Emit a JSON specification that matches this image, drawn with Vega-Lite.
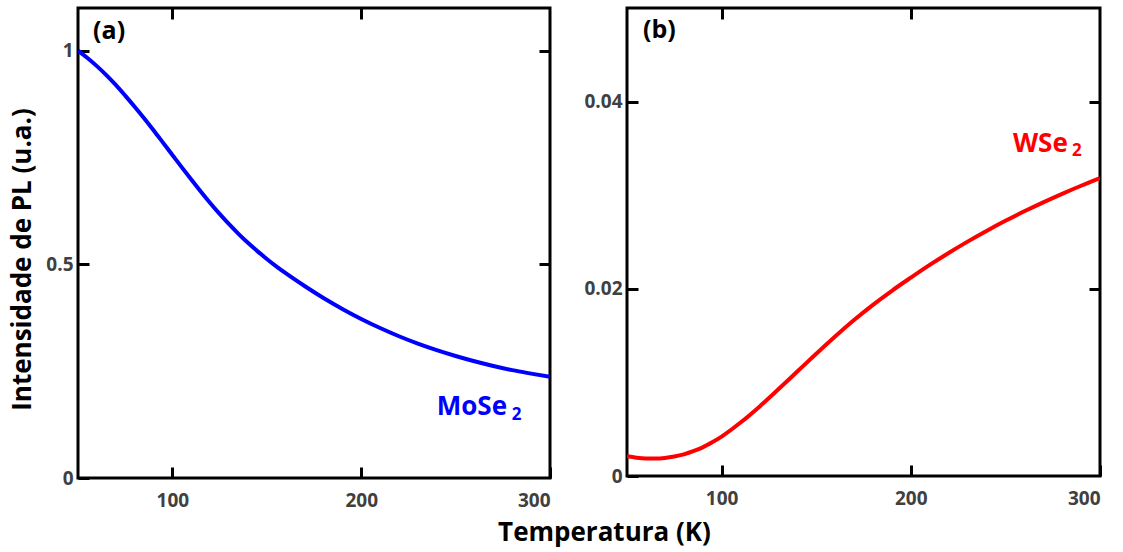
{
  "$schema": "https://vega.github.io/schema/vega-lite/v6.json",
  "background": "white",
  "padding": {"left": 7, "top": 5, "right": 10, "bottom": 5},
  "datasets": {
    "mose": [
      {"T": 50, "I": 1.000}, {"T": 55, "I": 0.983}, {"T": 60, "I": 0.964}, {"T": 65, "I": 0.943},
      {"T": 70, "I": 0.920}, {"T": 75, "I": 0.895}, {"T": 80, "I": 0.869}, {"T": 85, "I": 0.842},
      {"T": 90, "I": 0.814}, {"T": 95, "I": 0.785}, {"T": 100, "I": 0.756}, {"T": 105, "I": 0.727},
      {"T": 110, "I": 0.6985}, {"T": 115, "I": 0.6705}, {"T": 120, "I": 0.6435}, {"T": 125, "I": 0.618},
      {"T": 130, "I": 0.594}, {"T": 135, "I": 0.5715}, {"T": 140, "I": 0.5505}, {"T": 145, "I": 0.531},
      {"T": 150, "I": 0.5127}, {"T": 155, "I": 0.4955}, {"T": 160, "I": 0.4793}, {"T": 170, "I": 0.4493},
      {"T": 180, "I": 0.4213}, {"T": 190, "I": 0.3958}, {"T": 200, "I": 0.3723}, {"T": 210, "I": 0.351},
      {"T": 220, "I": 0.3318}, {"T": 230, "I": 0.3145}, {"T": 240, "I": 0.2992}, {"T": 250, "I": 0.2855},
      {"T": 260, "I": 0.2732}, {"T": 270, "I": 0.2622}, {"T": 280, "I": 0.2524}, {"T": 290, "I": 0.2443},
      {"T": 300, "I": 0.2368}
    ],
    "wse": [
      {"T": 50, "I": 0.00210}, {"T": 55, "I": 0.00196}, {"T": 60, "I": 0.00188}, {"T": 65, "I": 0.00187},
      {"T": 70, "I": 0.00193}, {"T": 75, "I": 0.00208}, {"T": 80, "I": 0.00231}, {"T": 85, "I": 0.00265},
      {"T": 90, "I": 0.00306}, {"T": 95, "I": 0.00360}, {"T": 100, "I": 0.00421}, {"T": 110, "I": 0.00571},
      {"T": 120, "I": 0.00741}, {"T": 130, "I": 0.00926}, {"T": 140, "I": 0.01116}, {"T": 150, "I": 0.01306},
      {"T": 160, "I": 0.01491}, {"T": 170, "I": 0.01666}, {"T": 180, "I": 0.01829}, {"T": 190, "I": 0.01979},
      {"T": 200, "I": 0.02119}, {"T": 210, "I": 0.02255}, {"T": 220, "I": 0.02383}, {"T": 230, "I": 0.02504},
      {"T": 240, "I": 0.02618}, {"T": 250, "I": 0.02726}, {"T": 260, "I": 0.02828}, {"T": 270, "I": 0.02924},
      {"T": 280, "I": 0.03015}, {"T": 290, "I": 0.03101}, {"T": 300, "I": 0.03182}
    ],
    "labA": [{"T": 58, "I": 1.047, "txt": "(a)"}],
    "labB": [{"T": 58.5, "I": 0.0476, "txt": "(b)"}],
    "moseName": [{"T": 240, "I": 0.1475, "txt": "MoSe"}],
    "moseSub": [{"T": 279.7, "I": 0.136, "txt": "2"}],
    "wseName": [{"T": 254, "I": 0.03466, "txt": "WSe"}],
    "wseSub": [{"T": 285.2, "I": 0.03423, "txt": "2"}]
  },
  "spacing": 77,
  "bounds": "flush",
  "hconcat": [
    {
      "width": 472,
      "height": 470,
      "layer": [
        {
          "data": {"name": "mose"},
          "mark": {"type": "line", "color": "#0000ff", "strokeWidth": 4, "interpolate": "monotone", "clip": true},
          "encoding": {
            "x": {"field": "T", "type": "quantitative", "scale": {"domain": [50, 300], "nice": false},
                  "axis": {"orient": "bottom", "values": [100, 200, 300], "title": "Temperatura (K)",
                           "titleX": 526, "titleY": 62, "titleAlign": "center", "titleBaseline": "alphabetic", "titleFontSize": 26}},
            "y": {"field": "I", "type": "quantitative", "scale": {"domain": [0, 1.1], "nice": false},
                  "axis": {"orient": "left", "values": [0, 0.5, 1], "format": "~g", "title": "Intensidade de PL (u.a.)",
                           "titleX": -56, "titleY": 251, "titleAlign": "center", "titleBaseline": "middle", "titleFontSize": 26}}
          }
        },
        {
          "data": {"name": "labA"},
          "mark": {"type": "text", "font": "Open Sans", "fontWeight": "bold", "fontSize": 25, "color": "black", "align": "left", "baseline": "middle"},
          "encoding": {
            "x": {"field": "T", "type": "quantitative", "axis": {"orient": "top", "values": [100, 200], "labels": false, "title": null}},
            "y": {"field": "I", "type": "quantitative", "axis": {"orient": "right", "values": [0.5, 1], "labels": false, "title": null}},
            "text": {"field": "txt"}
          }
        },
        {
          "data": {"name": "moseName"},
          "mark": {"type": "text", "font": "Open Sans", "fontWeight": "bold", "fontSize": 26, "color": "#0000ff", "align": "left", "baseline": "alphabetic"},
          "encoding": {
            "x": {"field": "T", "type": "quantitative", "axis": null},
            "y": {"field": "I", "type": "quantitative", "axis": null},
            "text": {"field": "txt"}
          }
        },
        {
          "data": {"name": "moseSub"},
          "mark": {"type": "text", "font": "Open Sans", "fontWeight": "bold", "fontSize": 17, "color": "#0000ff", "align": "left", "baseline": "alphabetic"},
          "encoding": {
            "x": {"field": "T", "type": "quantitative", "axis": null},
            "y": {"field": "I", "type": "quantitative", "axis": null},
            "text": {"field": "txt"}
          }
        }
      ]
    },
    {
      "width": 473,
      "height": 468,
      "layer": [
        {
          "data": {"name": "wse"},
          "mark": {"type": "line", "color": "#ff0000", "strokeWidth": 4, "interpolate": "monotone", "clip": true},
          "encoding": {
            "x": {"field": "T", "type": "quantitative", "scale": {"domain": [50, 300], "nice": false},
                  "axis": {"orient": "bottom", "values": [100, 200, 300], "title": null}},
            "y": {"field": "I", "type": "quantitative", "scale": {"domain": [0, 0.05], "nice": false},
                  "axis": {"orient": "left", "values": [0, 0.02, 0.04], "format": "~g", "title": null}}
          }
        },
        {
          "data": {"name": "labB"},
          "mark": {"type": "text", "font": "Open Sans", "fontWeight": "bold", "fontSize": 25, "color": "black", "align": "left", "baseline": "middle"},
          "encoding": {
            "x": {"field": "T", "type": "quantitative", "axis": {"orient": "top", "values": [100, 200], "labels": false, "title": null}},
            "y": {"field": "I", "type": "quantitative", "axis": {"orient": "right", "values": [0.02, 0.04], "labels": false, "title": null}},
            "text": {"field": "txt"}
          }
        },
        {
          "data": {"name": "wseName"},
          "mark": {"type": "text", "font": "Open Sans", "fontWeight": "bold", "fontSize": 26, "color": "#ff0000", "align": "left", "baseline": "alphabetic"},
          "encoding": {
            "x": {"field": "T", "type": "quantitative", "axis": null},
            "y": {"field": "I", "type": "quantitative", "axis": null},
            "text": {"field": "txt"}
          }
        },
        {
          "data": {"name": "wseSub"},
          "mark": {"type": "text", "font": "Open Sans", "fontWeight": "bold", "fontSize": 17, "color": "#ff0000", "align": "left", "baseline": "alphabetic"},
          "encoding": {
            "x": {"field": "T", "type": "quantitative", "axis": null},
            "y": {"field": "I", "type": "quantitative", "axis": null},
            "text": {"field": "txt"}
          }
        }
      ]
    }
  ],
  "config": {
    "view": {"stroke": "black", "strokeWidth": 3},
    "axis": {
      "domain": false,
      "grid": false,
      "ticks": true,
      "tickColor": "black",
      "tickWidth": 3,
      "tickSize": -11,
      "labelFont": "Open Sans",
      "labelFontWeight": "bold",
      "labelFontSize": 19,
      "labelColor": "#404040",
      "titleFont": "Open Sans",
      "titleFontWeight": "bold",
      "titleColor": "black"
    },
    "axisX": {"labelPadding": 24},
    "axisY": {"labelPadding": 16}
  }
}
